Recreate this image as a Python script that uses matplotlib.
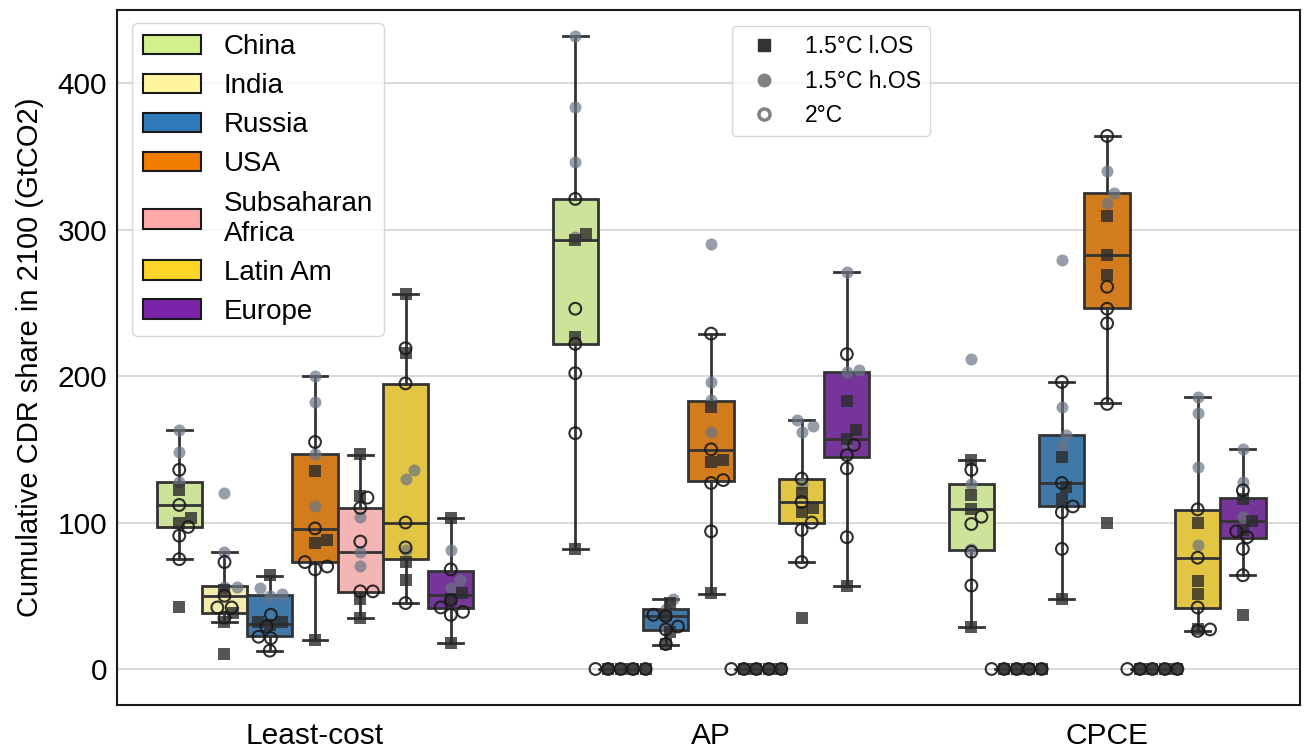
import colorsys
import numpy as np
import matplotlib
matplotlib.use('Agg')
import matplotlib.pyplot as plt
from matplotlib.colors import to_rgb
from matplotlib.patches import Patch
from matplotlib.lines import Line2D

plt.rcParams['font.family'] = ['Liberation Sans', 'DejaVu Sans']

approaches = ['Least-cost', 'AP', 'CPCE']
regions = ['China', 'India', 'Russia', 'USA', 'Subsaharan\nAfrica', 'Latin Am', 'Europe']
region_colors = ['#d2f08c', '#fff5a0', '#2f7ab9', '#f07d00', '#ffaaaa', '#fdd628', '#7a24aa']
scenarios = ['1.5°C l.OS', '1.5°C h.OS', '2°C']

# values per region (same order as regions), one list per scenario and approach
lc_low = [[122, 103, 100, 42], [54, 38, 32, 10], [64, 32, 32, 30], [135, 88, 86, 20],
          [147, 118, 48, 35], [256, 216, 73, 61], [103, 52, 48, 18]]
lc_high = [[163, 148, 128], [120, 80, 56, 56], [55, 51, 50], [200, 182, 147, 111],
           [104, 80, 70], [136, 130, 81], [81, 61, 55]]
lc_2c = [[136, 112, 97, 91, 75], [73, 50, 42, 42, 35], [37, 29, 22, 21, 12.5], [155, 96, 73, 70, 68],
         [117, 110, 87, 53, 53], [219, 195, 100, 83, 45], [68, 47, 42, 39, 37]]

ap_low = [[297, 293, 227, 82], [0, 0, 0, 0], [45, 37, 25, 17], [179, 143, 141, 52],
          [0, 0, 0, 0], [120, 110, 107, 35], [183, 163, 157, 57]]
ap_high = [[432, 384, 346, 295], [0, 0, 0, 0], [48, 41, 29], [290, 196, 184, 162],
           [0, 0, 0, 0], [170, 166, 162, 126], [271, 204, 203, 154]]
ap_2c = [[321, 246, 222, 202, 161], [0, 0, 0, 0, 0], [37, 36, 29, 27, 17], [229, 150, 129, 127, 94],
         [0, 0, 0, 0, 0], [130, 114, 100, 95, 73], [215, 153, 146, 137, 90]]

cpce_low = [[143, 119, 109, 29], [0, 0, 0, 0], [145, 124, 116, 48], [309, 283, 269, 100],
            [0, 0, 0, 0], [100, 60, 51, 27], [116, 101, 95, 37]]
cpce_high = [[212, 126, 82], [0, 0, 0, 0], [279, 179, 160, 152], [340, 325, 318],
             [0, 0, 0, 0], [186, 175, 138, 85], [150, 128, 104]]
cpce_2c = [[136, 104, 99, 80, 57], [0, 0, 0, 0, 0], [196, 127, 111, 107, 82], [364, 261, 246, 236, 181],
           [0, 0, 0, 0, 0], [109, 76, 42, 27, 26], [122, 94, 90, 82, 64]]

# box stats: (whisker low, q1, median, q3, whisker high)
lc_box = [(75, 97, 112, 128, 163), (32, 38, 50, 56.5, 80), (12.5, 22.5, 30.7, 50.5, 63.5),
          (20, 73, 95.5, 147, 200), (35, 52.5, 80, 110, 146), (45, 75, 99.6, 194.5, 256),
          (18, 41.6, 50.5, 67, 103)]
ap_box = [(82, 222, 293, 321, 432), (0, 0, 0, 0, 0), (16.4, 26.6, 36.2, 40.7, 48),
          (51, 128.5, 149.6, 183, 229), (0, 0, 0, 0, 0), (73, 99.4, 114, 129.5, 170),
          (57, 144.5, 156.8, 203, 271)]
cpce_box = [(29, 81.5, 109, 126.4, 142.5), (0, 0, 0, 0, 0), (48, 111, 127, 160, 196),
            (181.5, 246.5, 283, 325, 364), (0, 0, 0, 0, 0), (26, 41.8, 76, 108.5, 186),
            (64, 89.3, 101, 116.7, 150)]

points = [[lc_low, lc_high, lc_2c], [ap_low, ap_high, ap_2c], [cpce_low, cpce_high, cpce_2c]]
boxes = [lc_box, ap_box, cpce_box]


def desat(c, prop=0.75):
    h, l, s = colorsys.rgb_to_hls(*to_rgb(c))
    return colorsys.hls_to_rgb(h, l, s * prop)


def swarm(ys, d):
    # simple beeswarm in pixel space, returns x offsets
    placed = []
    out = np.zeros(len(ys))
    for k in np.argsort(ys):
        y = ys[k]
        cands = [0.0]
        for px, py in placed:
            dy = abs(py - y)
            if dy < d:
                dx = np.sqrt(d * d - dy * dy)
                cands += [px + dx, px - dx]
        cands.sort(key=abs)
        for c in cands:
            if all((c - px) ** 2 + (y - py) ** 2 >= d * d - 1e-6 for px, py in placed):
                break
        placed.append((c, y))
        out[k] = c
    return out


fig = plt.figure(figsize=(13.12, 7.55), dpi=100)
ax = fig.add_axes([117 / 1312, 50 / 755, 1183 / 1312, 695 / 755])
ax.set_xlim(-0.5, 2.487)
ax.set_ylim(-24.6, 450)

nh = len(regions)
w = 0.8 / nh
edge = '#333333'

for i, approach in enumerate(approaches):
    pos = [i - 0.4 + (j + 0.5) * w for j in range(nh)]
    stats = [dict(whislo=b[0], q1=b[1], med=b[2], q3=b[3], whishi=b[4], fliers=[])
             for b in boxes[i]]
    bp = ax.bxp(stats, positions=pos, widths=w, capwidths=0.55 * w, patch_artist=True,
                showfliers=False,
                boxprops=dict(edgecolor=edge, linewidth=2.0),
                whiskerprops=dict(color=edge, linewidth=2.0),
                capprops=dict(color=edge, linewidth=2.0),
                medianprops=dict(color=edge, linewidth=2.0), zorder=2)
    for patch, c in zip(bp['boxes'], region_colors):
        patch.set_facecolor(desat(c))

# scatter overlays
px_per_x = ax.transData.transform((1, 0))[0] - ax.transData.transform((0, 0))[0]
px_per_y = ax.transData.transform((0, 1))[1] - ax.transData.transform((0, 0))[1]
styles = [dict(marker='s', s=81, color='#2b2b2b', alpha=0.8, linewidths=0, zorder=4),
          dict(marker='o', s=75, color='#6a7585', alpha=0.7, linewidths=0, zorder=3),
          dict(marker='o', s=72, facecolors='none', edgecolors='#1a1a1a', alpha=0.9,
               linewidths=1.5, zorder=5)]
for i in range(len(approaches)):
    for k, st in enumerate(styles):
        for j in range(nh):
            ys = np.array(points[i][k][j], dtype=float)
            xc = i - 0.4 + (j + 0.5) * w
            offs = swarm(ys * px_per_y, 12.5) / px_per_x
            ax.scatter(xc + offs, ys, **st)

ax.set_xticks(range(len(approaches)))
ax.set_xticklabels(approaches)
ax.set_yticks([0, 100, 200, 300, 400])
ax.tick_params(length=0, labelsize=21.5)
ax.tick_params(axis='x', pad=12)
ax.tick_params(axis='y', pad=7)
ax.set_ylabel('Cumulative CDR share in 2100 (GtCO2)', fontsize=21, labelpad=10)

ax.yaxis.grid(True, color='#d9d9d9', linewidth=1.4)
ax.set_axisbelow(True)
for sp in ax.spines.values():
    sp.set_color('#1a1a1a')
    sp.set_linewidth(1.5)

handles1 = [Patch(facecolor=c, edgecolor='#1a1a1a', linewidth=1.5, label=r)
            for c, r in zip(region_colors, regions)]
leg1 = ax.legend(handles=handles1, loc='upper left', bbox_to_anchor=(0.0127, 0.981),
                 borderaxespad=0, fontsize=20, labelspacing=0.47, handlelength=2.1,
                 frameon=True, edgecolor='#cccccc', framealpha=0.8)
ax.add_artist(leg1)

handles2 = [Line2D([], [], marker='s', ls='none', color='#333333', ms=9, label=scenarios[0]),
            Line2D([], [], marker='o', ls='none', color='#858080', ms=9, label=scenarios[1]),
            Line2D([], [], marker='o', ls='none', mfc='none', mec='#858080', mew=2.5, ms=8,
                   label=scenarios[2])]
ax.legend(handles=handles2, loc='upper left', bbox_to_anchor=(0.5195, 0.977),
          borderaxespad=0, fontsize=16.5, labelspacing=0.5,
          frameon=True, edgecolor='#cccccc', framealpha=0.8)

fig.savefig('out.png', dpi=100)
